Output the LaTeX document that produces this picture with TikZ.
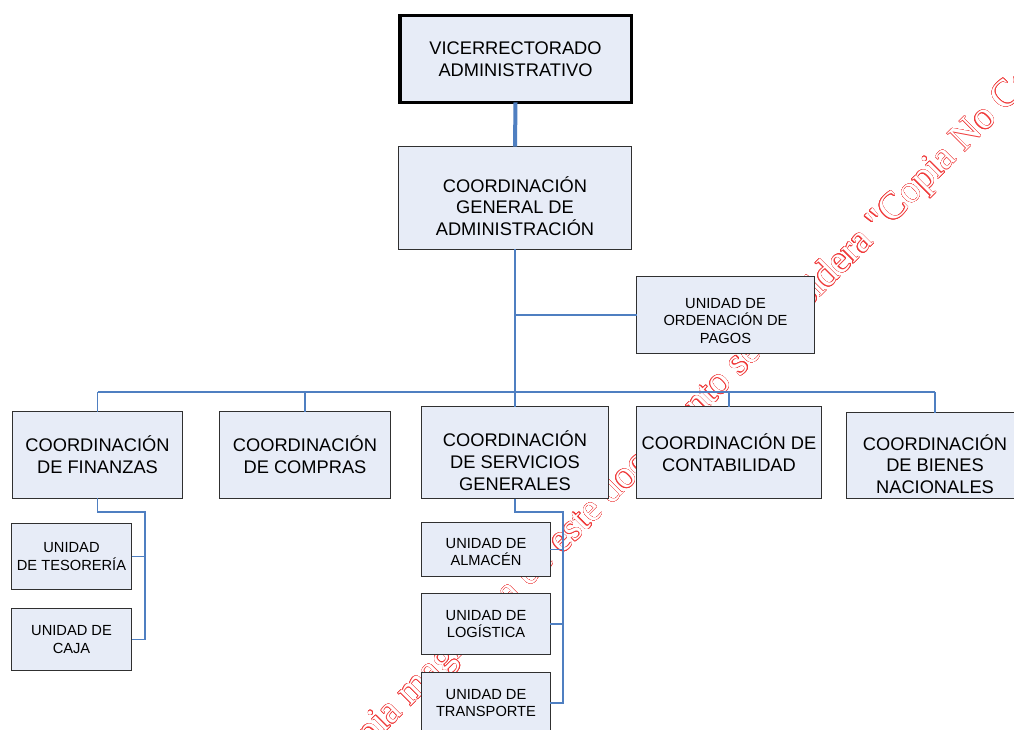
\documentclass[tikz,border=0pt]{standalone}
\usepackage{fontspec}
\setmainfont{Liberation Sans}
\newfontfamily\wmfont{Liberation Serif}
\usepackage{contour}
\contourlength{0.3pt}
\usetikzlibrary{calc}
\definecolor{boxfill}{HTML}{E7ECF7}
\definecolor{boxline}{HTML}{303030}
\definecolor{conn}{HTML}{4F7FC1}
\definecolor{wmred}{HTML}{F03A3A}
\begin{document}
\begin{tikzpicture}[x=0.75pt,y=-0.75pt,
  box/.style={draw=boxline, fill=boxfill, line width=1pt, inner sep=0pt, outer sep=0pt},
  topbox/.style={box, draw=black, line width=2.6pt},
  big/.style={align=center, inner sep=0pt, font=\fontsize{13.7pt}{16.3pt}\selectfont},
  small/.style={align=center, inner sep=0pt, font=\fontsize{11pt}{13pt}\selectfont},
  link/.style={draw=conn, line width=1.1pt},
  thicklink/.style={draw=conn, line width=3pt},
  wmark/.style={rotate=45, anchor=base west, inner sep=0pt, text=white,
    font=\wmfont\fontsize{29pt}{30pt}\selectfont}]
\path[use as bounding box] (0,0) rectangle (1014,729);
\clip (0,0) rectangle (1014,729);
\fill[white] (0,0) rectangle (1014,729);

% watermark
\node[wmark] (wm) at (338,779) {\contour{wmred}{Copia magnética de este documento se considera "Copia No Controlada"}};

% boxes
\node[topbox, minimum width=173.6pt, minimum height=64.9pt] (vice) at (515.5,59) {};
\node[box, minimum width=174.7pt, minimum height=77.2pt] (cga) at (515,198) {};
\node[box, minimum width=133.5pt, minimum height=57.7pt] (uop) at (725.5,315) {};
\node[box, minimum width=127.5pt, minimum height=65.2pt] (fin) at (97.5,455) {};
\node[box, minimum width=128.2pt, minimum height=65.2pt] (com) at (305,455) {};
\node[box, minimum width=140.2pt, minimum height=69pt] (serv) at (515,452.5) {};
\node[box, minimum width=138.7pt, minimum height=69pt] (cont) at (729,452.5) {};
\node[box, minimum width=132.7pt, minimum height=64.5pt] (bien) at (935,455.5) {};
\node[box, minimum width=90pt, minimum height=49.5pt] (tes) at (71.5,556.5) {};
\node[box, minimum width=90pt, minimum height=46.5pt] (caja) at (71.5,639.5) {};
\node[box, minimum width=96.7pt, minimum height=40.5pt] (alm) at (486,549.5) {};
\node[box, minimum width=96.7pt, minimum height=45.7pt] (log) at (486,624) {};
\node[box, minimum width=96.7pt, minimum height=45.7pt] (trans) at (486,703) {};

% connectors
\coordinate (bar) at (0,392);
\coordinate (finsp) at (145,512);
\coordinate (servsp) at (563,512);
\draw[thicklink] (vice.south) -- (cga.north);
\draw[link] (cga.south) -- (cga.south |- bar);
\draw[link] (uop.west -| cga.south) -- (uop.west);
\draw[link] (fin.north |- bar) -- (bien.north |- bar);
\draw[link] (fin.north |- bar) -- (fin.north);
\draw[link] (com.north |- bar) -- (com.north);
\draw[link] (serv.north |- bar) -- (serv.north);
\draw[link] (cont.north |- bar) -- (cont.north);
\draw[link] (bien.north |- bar) -- (bien.north);
\draw[link] (fin.south) -- (fin.south |- finsp) -- (finsp) -- (finsp |- caja.east) -- (caja.east);
\draw[link] (tes.east) -- (tes.east -| finsp);
\draw[link] (serv.south) -- (serv.south |- servsp) -- (servsp) -- (servsp |- trans.east) -- (trans.east);
\draw[link] (alm.east) -- (alm.east -| servsp);
\draw[link] (log.east) -- (log.east -| servsp);

% texts
\node[big] (vice-t) at (vice) {VICERRECTORADO\\ADMINISTRATIVO};
\node[big] (cga-t) at ($(cga)+(0,8)$) {COORDINACIÓN\\GENERAL DE\\ADMINISTRACIÓN};
\node[small] (uop-t) at ($(uop)+(0,6)$) {UNIDAD DE\\ORDENACIÓN DE\\PAGOS};
\node[big] (fin-t) at (fin) {COORDINACIÓN\\DE FINANZAS};
\node[big] (com-t) at (com) {COORDINACIÓN\\DE COMPRAS};
\node[big] (serv-t) at ($(serv)+(0,8)$) {COORDINACIÓN\\DE SERVICIOS\\GENERALES};
\node[big] (cont-t) at (cont) {COORDINACIÓN DE\\CONTABILIDAD};
\node[big] (bien-t) at ($(bien)+(0,8.5)$) {COORDINACIÓN\\DE BIENES\\NACIONALES};
\node[small] (tes-t) at (tes) {UNIDAD\\DE TESORERÍA};
\node[small] (caja-t) at (caja) {UNIDAD DE\\CAJA};
\node[small] (alm-t) at ($(alm)+(0,2.5)$) {UNIDAD DE\\ALMACÉN};
\node[small] (log-t) at (log) {UNIDAD DE\\LOGÍSTICA};
\node[small] (trans-t) at (trans) {UNIDAD DE\\TRANSPORTE};
\end{tikzpicture}
\end{document}
